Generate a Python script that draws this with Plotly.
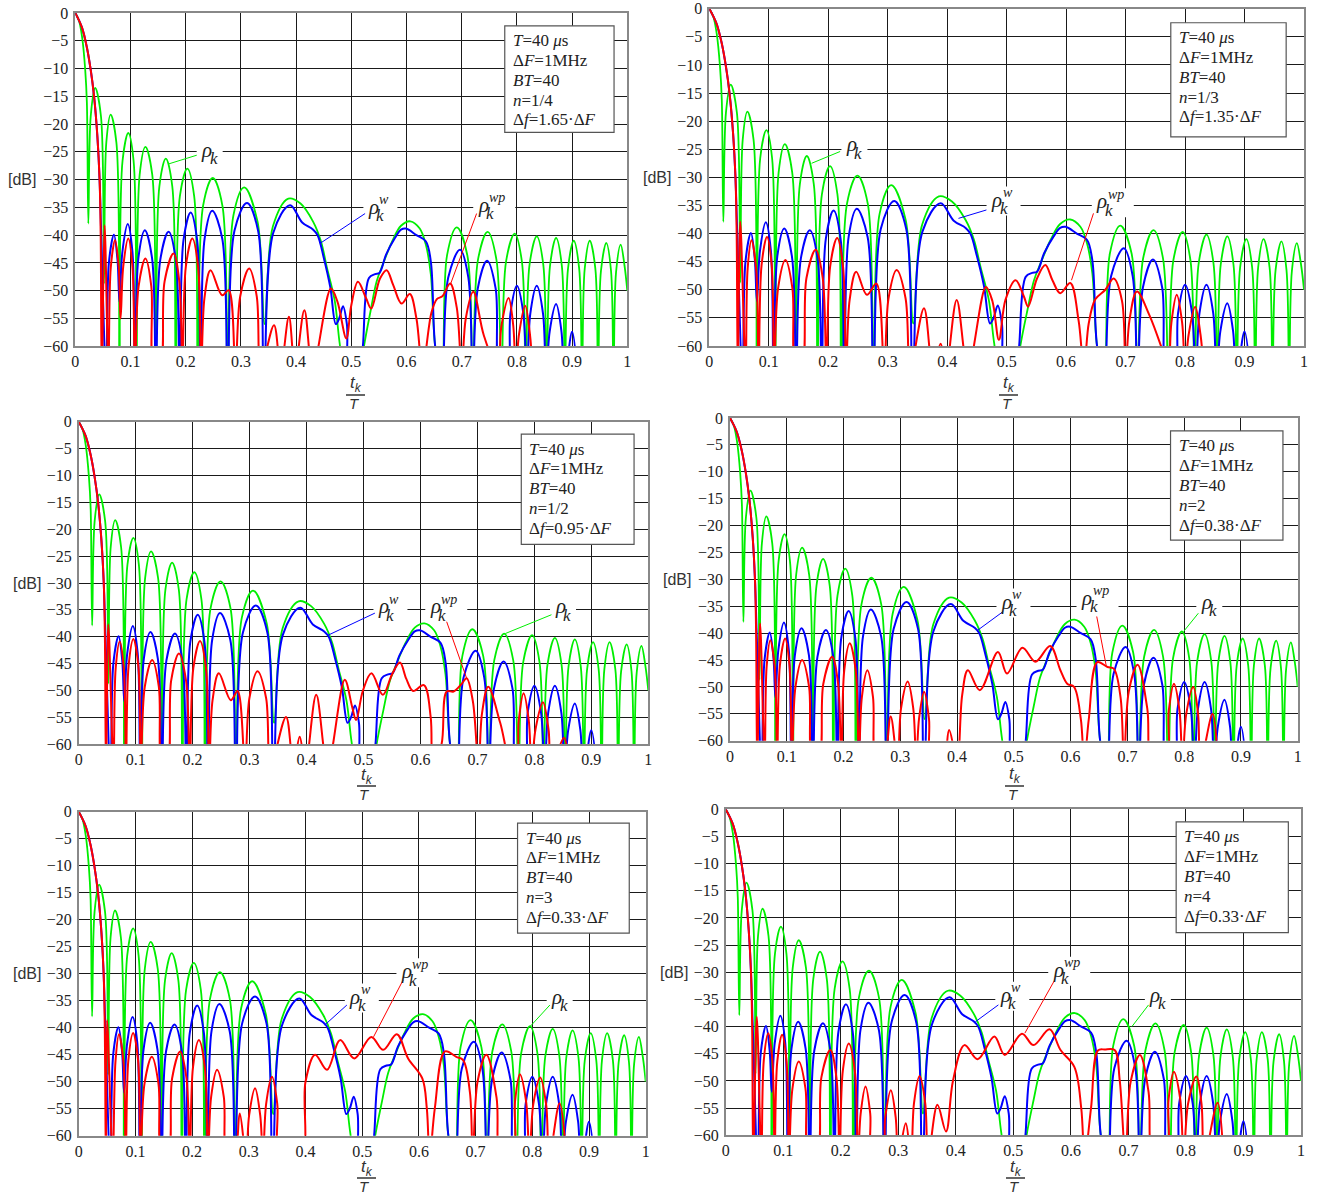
import plotly.graph_objects as go

W, H = 1320, 1195

# ---------------- data ----------------
X_TICKS = [0, 0.1, 0.2, 0.3, 0.4, 0.5, 0.6, 0.7, 0.8, 0.9, 1]
X_TICKTEXT = ["0", "0.1", "0.2", "0.3", "0.4", "0.5", "0.6", "0.7", "0.8", "0.9", "1"]
Y_TICKS = [0, -5, -10, -15, -20, -25, -30, -35, -40, -45, -50, -55, -60]
Y_TICKTEXT = ["0", "−5", "−10", "−15", "−20", "−25", "−30", "−35", "−40", "−45", "−50", "−55", "−60"]

# rho_k (green) - same in all panels: (t_k/T, dB)
GREEN = [(0, 0), (0.0067, -1.4), (0.0124, -4.4), (0.018, -10.3), (0.021, -16.2), (0.0236, -37.9),
         (0.028, -18.5), (0.036, -13.5), (0.0464, -18.5), (0.052, -48.7),
         (0.0562, -23.3), (0.064, -18.3), (0.0744, -23.3), (0.08, -66),
         (0.0856, -26.6), (0.096, -21.6), (0.1056, -26.6), (0.111, -66),
         (0.1166, -29.1), (0.127, -24.1), (0.1394, -29.1), (0.146, -66),
         (0.1523, -31.2), (0.164, -26.2), (0.1757, -31.2), (0.182, -66),
         (0.1894, -33), (0.203, -28), (0.2154, -33), (0.222, -66),
         (0.2315, -34.7), (0.249, -29.7), (0.2665, -34.7), (0.276, -66),
         (0.2865, -36.4), (0.306, -31.4), (0.330, -37.5), (0.343, -56),
         (0.358, -38.4), (0.386, -33.4), (0.408, -34.3), (0.431, -37.6), (0.445, -41.1),
         (0.456, -45.9), (0.47, -51.8), (0.479, -59.5), (0.49, -66),
         (0.515, -66), (0.523, -60), (0.535, -53.6), (0.546, -48.3), (0.557, -45.3), (0.574, -41.1),
         (0.59, -38.3), (0.607, -37.5), (0.624, -38.8), (0.635, -41.7), (0.644, -47), (0.652, -60),
         (0.664, -66),
         (0.6735, -43.6), (0.691, -38.6), (0.7102, -43.6), (0.72, -66),
         (0.7295, -44.4), (0.747, -39.4), (0.7629, -44.4), (0.772, -66),
         (0.7804, -44.7), (0.796, -39.7), (0.809, -44.7), (0.816, -66),
         (0.823, -45.2), (0.836, -40.2), (0.8477, -45.2), (0.854, -66),
         (0.86, -45.5), (0.871, -40.5), (0.8814, -45.5), (0.887, -66),
         (0.8926, -46), (0.903, -41), (0.9128, -46), (0.918, -66),
         (0.9229, -46), (0.932, -41), (0.9421, -46), (0.947, -66),
         (0.9523, -46.4), (0.962, -41.4), (0.9705, -46.4), (0.975, -66),
         (0.9796, -46.7), (0.988, -41.7), (0.995, -45.5), (1.0, -50)]

# rho_k^w (blue) - same in all panels
BLUE = [(0, 0), (0.012, -2.6), (0.021, -6.2), (0.028, -10.3), (0.034, -15), (0.04, -22.2),
        (0.044, -30), (0.047, -40), (0.056, -66),
        (0.0609, -44.9), (0.07, -39.9), (0.0765, -44.5), (0.08, -52),
        (0.0853, -43), (0.095, -38), (0.1035, -43), (0.108, -66),
        (0.1143, -44.1), (0.126, -39.1), (0.139, -44.1), (0.146, -66),
        (0.154, -44.4), (0.169, -39.4), (0.182, -44.4), (0.189, -66),
        (0.196, -40.9), (0.209, -35.9), (0.2207, -40.9), (0.227, -66),
        (0.2343, -40.6), (0.248, -35.6), (0.2662, -40.6), (0.276, -66),
        (0.2883, -39.2), (0.311, -34.2), (0.3312, -39.2), (0.342, -66),
        (0.3585, -39.6), (0.389, -34.6), (0.411, -37.7), (0.431, -39), (0.439, -40), (0.45, -44),
        (0.462, -49.4), (0.472, -56), (0.478, -55), (0.485, -52.8), (0.492, -56), (0.498, -66),
        (0.515, -66), (0.521, -60), (0.532, -47.7), (0.543, -47), (0.551, -46.8), (0.563, -43.5),
        (0.579, -40.5), (0.59, -39), (0.599, -38.8), (0.618, -40), (0.635, -41.1), (0.644, -44.7),
        (0.652, -60), (0.664, -66),
        (0.6756, -47.6), (0.697, -42.6), (0.712, -47.6), (0.72, -66),
        (0.7291, -49.6), (0.746, -44.6), (0.7615, -49.6), (0.77, -66), (0.782, -66),
        (0.7883, -54.1), (0.8, -49.1), (0.8117, -54.1), (0.818, -66),
        (0.8243, -54.1), (0.836, -49.1), (0.8473, -54.1), (0.853, -66),
        (0.8593, -57.4), (0.871, -52.4), (0.8808, -57.4), (0.886, -66),
        (0.9, -57.4), (0.91, -66)]

# rho_k^wp (red) main lobe, common start
RED_MAIN = [(0, 0), (0.012, -2.6), (0.021, -6.2), (0.028, -10.3), (0.034, -15), (0.04, -22.2),
            (0.044, -30), (0.046, -40), (0.048, -66)]

RED_N14 = [(0.053, -38.2), (0.06, -64),
           (0.0642, -45.9), (0.072, -40.9), (0.0785, -45.5), (0.082, -55),
           (0.0869, -45.6), (0.096, -40.6), (0.1035, -45.6), (0.108, -64),
           (0.1147, -49.2), (0.127, -44.2), (0.1377, -49.2), (0.143, -64), (0.153, -64),
           (0.1618, -48.3), (0.178, -43.3), (0.1884, -48.3), (0.194, -64),
           (0.2003, -45.6), (0.212, -40.6), (0.2224, -45.6), (0.228, -64),
           (0.234, -51.3), (0.245, -46.3), (0.266, -50.8), (0.278, -49.9), (0.29, -64),
           (0.2988, -51), (0.315, -46), (0.3287, -51), (0.336, -64),
           (0.36, -56.2), (0.372, -64), (0.387, -54.7), (0.398, -64), (0.415, -53.5), (0.43, -64),
           (0.463, -49.6), (0.475, -52), (0.491, -58.6), (0.5, -52.6), (0.512, -48.4), (0.527, -51.4),
           (0.536, -53.2), (0.552, -47.8), (0.564, -46.3), (0.576, -49), (0.591, -52.3), (0.606, -50.6),
           (0.618, -55), (0.629, -64),
           (0.645, -54), (0.655, -51.5), (0.665, -51), (0.679, -48.7), (0.691, -53), (0.7, -64),
           (0.7074, -55), (0.721, -50.2), (0.74, -58), (0.765, -64),
           (0.772, -56.3), (0.785, -51.3), (0.7934, -56.3), (0.798, -64),
           (0.804, -57.7), (0.815, -52.7), (0.8235, -57.7), (0.828, -64)]

RED_N13 = [(0.052, -37.9), (0.061, -64),
           (0.0645, -46.2), (0.071, -41.2), (0.0787, -46.2), (0.083, -64),
           (0.0879, -45.6), (0.097, -40.6), (0.1049, -45.6), (0.109, -64),
           (0.1157, -49.7), (0.128, -44.7), (0.1397, -49.7), (0.146, -64), (0.155, -64),
           (0.1634, -47.9), (0.179, -42.9), (0.1907, -47.9), (0.197, -64),
           (0.2033, -45.8), (0.215, -40.8), (0.2248, -45.8), (0.23, -64),
           (0.236, -51.8), (0.247, -46.8), (0.265, -50.9), (0.281, -48.9), (0.294, -64),
           (0.3014, -51.5), (0.315, -46.5), (0.33, -51.5), (0.338, -64),
           (0.361, -53.3), (0.376, -64), (0.389, -59.6), (0.398, -64), (0.416, -51.8), (0.435, -64),
           (0.465, -49.5), (0.476, -52), (0.487, -58.9), (0.498, -51.8), (0.515, -48.3), (0.529, -51.2),
           (0.536, -53), (0.551, -48), (0.565, -45.6), (0.577, -48.3), (0.59, -50.6), (0.607, -48.8),
           (0.621, -55.5), (0.63, -64),
           (0.638, -56), (0.649, -51.7), (0.666, -50), (0.68, -48), (0.694, -52), (0.7, -64),
           (0.7067, -55.3), (0.719, -50.3), (0.74, -54.5), (0.766, -62), (0.772, -64),
           (0.777, -55.9), (0.786, -50.9), (0.7951, -55.9), (0.8, -64),
           (0.806, -58), (0.817, -53), (0.826, -58), (0.831, -64)]

RED_N12 = [(0.052, -37.7), (0.061, -64),
           (0.0649, -45.9), (0.072, -40.9), (0.0792, -45.9), (0.083, -64),
           (0.0876, -45.4), (0.096, -40.4), (0.1047, -45.4), (0.109, -64),
           (0.116, -49.3), (0.129, -44.3), (0.1407, -49.3), (0.147, -64), (0.155, -64),
           (0.1624, -48.1), (0.176, -43.1), (0.1884, -48.1), (0.195, -64),
           (0.2013, -45.8), (0.213, -40.8), (0.2234, -45.8), (0.229, -64),
           (0.235, -51.8), (0.246, -46.8), (0.267, -51.8), (0.279, -50.1), (0.292, -64),
           (0.2997, -51.4), (0.314, -46.4), (0.329, -51.4), (0.337, -64),
           (0.364, -54.9), (0.377, -64), (0.388, -58.6), (0.398, -64), (0.417, -50.8), (0.437, -64),
           (0.467, -48), (0.48, -53), (0.487, -55.5), (0.499, -50), (0.514, -46.8), (0.534, -50.8),
           (0.55, -47), (0.564, -44.8), (0.575, -47.8), (0.587, -50.1), (0.606, -49), (0.618, -55),
           (0.622, -64),
           (0.637, -60), (0.646, -50.2), (0.658, -50.2), (0.672, -48.8), (0.681, -47.7), (0.692, -52),
           (0.702, -64),
           (0.708, -54.3), (0.719, -49.3), (0.74, -56), (0.76, -64), (0.768, -64),
           (0.7726, -55.5), (0.781, -50.5), (0.7901, -55.5), (0.795, -64),
           (0.802, -57.2), (0.815, -52.2), (0.8248, -57.2), (0.83, -64),
           (0.852, -58.8), (0.86, -64)]

RED_N2 = [(0.053, -38.2), (0.061, -64),
          (0.0645, -46.3), (0.071, -41.3), (0.0788, -46.3), (0.083, -64),
          (0.0879, -46), (0.097, -41), (0.1048, -46), (0.109, -64),
          (0.1153, -50), (0.127, -45), (0.1393, -50), (0.146, -64), (0.156, -64),
          (0.1644, -49.4), (0.18, -44.4), (0.1904, -49.4), (0.196, -64),
          (0.2013, -46.9), (0.211, -41.9), (0.2214, -46.9), (0.227, -64),
          (0.2323, -51.9), (0.242, -46.9), (0.2519, -51.9), (0.258, -64), (0.27, -64),
          (0.283, -55.5), (0.295, -64),
          (0.3013, -54), (0.313, -49), (0.3228, -54), (0.328, -64),
          (0.333, -55.9), (0.342, -50.9), (0.3505, -55.9), (0.355, -64), (0.375, -64),
          (0.386, -58), (0.4, -64),
          (0.409, -51.5), (0.419, -46.9), (0.44, -50.6), (0.472, -43.5), (0.488, -47.5), (0.515, -42.7),
          (0.538, -45.3), (0.564, -42.4), (0.582, -46.9), (0.594, -49.4), (0.606, -50), (0.618, -56),
          (0.624, -64),
          (0.632, -56), (0.647, -45.4), (0.665, -46.3), (0.676, -46.6), (0.688, -52), (0.694, -64),
          (0.7024, -50.9), (0.718, -45.9), (0.735, -54), (0.744, -64), (0.768, -64),
          (0.7729, -54.4), (0.782, -49.4), (0.7918, -54.4), (0.797, -64),
          (0.8037, -55), (0.816, -50), (0.8245, -55), (0.829, -64),
          (0.85, -55), (0.859, -64)]

RED_N3 = [(0.05, -38.6), (0.06, -64),
          (0.0649, -46.2), (0.071, -41.2), (0.0788, -46.2), (0.083, -64),
          (0.0876, -46), (0.096, -41), (0.1047, -46), (0.109, -64),
          (0.116, -50.4), (0.129, -45.4), (0.1407, -50.4), (0.147, -64), (0.157, -64),
          (0.1647, -49.4), (0.179, -44.4), (0.1901, -49.4), (0.196, -64),
          (0.2016, -47.3), (0.212, -42.3), (0.2224, -47.3), (0.228, -64),
          (0.2336, -52.8), (0.244, -47.8), (0.2559, -52.8), (0.262, -64), (0.274, -64),
          (0.284, -55.9), (0.295, -64),
          (0.3006, -56.2), (0.311, -51.2), (0.3201, -56.2), (0.325, -64),
          (0.3306, -54.1), (0.341, -49.1), (0.3502, -54.1), (0.356, -64), (0.392, -64),
          (0.4, -50), (0.417, -45), (0.438, -47.8), (0.461, -42.3), (0.486, -45.7), (0.516, -41.7),
          (0.537, -44.1), (0.561, -41.2), (0.581, -45.7), (0.606, -49.4), (0.614, -55), (0.619, -64),
          (0.628, -55), (0.646, -44.4), (0.666, -45.4), (0.678, -46), (0.69, -52), (0.695, -64),
          (0.7034, -50), (0.719, -45), (0.737, -53), (0.745, -64), (0.765, -64),
          (0.7696, -53.6), (0.778, -48.6), (0.789, -53.6), (0.795, -64),
          (0.8017, -54.2), (0.814, -49.2), (0.8244, -54.2), (0.83, -64),
          (0.848, -54), (0.86, -64)]

RED_N4 = [(0.054, -38.2), (0.062, -64),
          (0.0662, -46.2), (0.074, -41.2), (0.0812, -46.2), (0.085, -64),
          (0.0896, -46.5), (0.098, -41.5), (0.1058, -46.5), (0.11, -64),
          (0.116, -51.4), (0.127, -46.4), (0.1387, -51.4), (0.145, -64), (0.158, -64),
          (0.1664, -49.3), (0.182, -44.3), (0.1924, -49.3), (0.198, -64),
          (0.2036, -48.1), (0.214, -43.1), (0.2244, -48.1), (0.23, -64),
          (0.2346, -56), (0.243, -51), (0.2512, -56), (0.255, -64), (0.272, -64),
          (0.2773, -56.7), (0.287, -51.7), (0.2955, -56.7), (0.3, -64),
          (0.313, -57.8), (0.322, -64),
          (0.3273, -54.1), (0.337, -49.1), (0.3468, -54.1), (0.352, -64),
          (0.368, -54.4), (0.383, -59.3), (0.395, -50), (0.415, -43.4), (0.438, -46), (0.467, -41.8),
          (0.485, -45.2), (0.515, -41.3), (0.535, -43.4), (0.563, -40.5), (0.582, -44.3), (0.606, -47.4),
          (0.618, -55), (0.624, -64),
          (0.635, -55), (0.647, -44.4), (0.659, -44.2), (0.676, -44.3), (0.685, -50), (0.695, -64),
          (0.7038, -50.2), (0.72, -45.2), (0.735, -52), (0.744, -64), (0.765, -64),
          (0.7699, -53.3), (0.779, -48.3), (0.79, -53.3), (0.796, -64),
          (0.8037, -54.2), (0.818, -49.2), (0.8271, -54.2), (0.832, -64),
          (0.855, -54), (0.865, -64)]

RED_SERIES = [RED_N14, RED_N13, RED_N12, RED_N2, RED_N3, RED_N4]
N_TEXT = ["1/4", "1/3", "1/2", "2", "3", "4"]
DF_TEXT = ["1.65", "1.35", "0.95", "0.38", "0.33", "0.33"]

# ---------------- layout geometry (pixels / data positions) ----------------
PANELS = [
    dict(x0=75.3, x1=627.3, y0=13.0, y1=346.3),
    dict(x0=709.3, x1=1304.0, y0=8.7, y1=346.0),
    dict(x0=78.7, x1=648.3, y0=421.7, y1=744.3),
    dict(x0=730.0, x1=1297.7, y0=418.0, y1=740.7),
    dict(x0=78.7, x1=645.7, y0=811.7, y1=1135.7),
    dict(x0=725.7, x1=1301.0, y0=809.3, y1=1135.3),
]
BOXES = [(0.778, 0.976, -2.3, -21.5), (0.776, 0.970, -2.5, -22.8), (0.777, 0.975, -2.3, -22.8),
         (0.776, 0.974, -2.4, -22.7), (0.774, 0.971, -2.1, -22.5), (0.783, 0.978, -2.3, -22.7)]
DB_X = [38, 673, 43, 693, 43, 690]
FRAC_X = [356, 1009, 367, 1015, 367, 1016]
FRAC_Y = [(384, 395, 403), (384, 395, 403), (776, 786, 794), (775, 786, 794),
          (1168, 1178, 1186), (1168, 1178, 1186)]

# labels: (kind, rho position, leader start, leader end)
LABELS = [
    [("k", (0.238, -25.0), (0.22, -25.6), (0.168, -27.2)),
     ("w", (0.54, -35.2), (0.525, -36.1), (0.443, -41.5)),
     ("wp", (0.739, -34.9), (0.727, -36.1), (0.679, -49.0))],
    [("k", (0.239, -24.5), (0.22, -25.4), (0.172, -27.5)),
     ("w", (0.483, -34.3), (0.466, -35.8), (0.419, -37.3)),
     ("wp", (0.66, -34.6), (0.646, -36.4), (0.609, -48.3))],
    [("w", (0.535, -34.7), (0.52, -35.6), (0.438, -39.7)),
     ("wp", (0.626, -34.7), (0.646, -37.2), (0.681, -47.7)),
     ("k", (0.845, -34.7), (0.83, -35.9), (0.749, -39.4))],
    [("w", (0.487, -34.5), (0.481, -36.0), (0.437, -39.4)),
     ("wp", (0.628, -33.8), (0.646, -36.9), (0.663, -46.2)),
     ("k", (0.839, -34.5), (0.825, -36.3), (0.799, -39.7))],
    [("w", (0.487, -34.6), (0.473, -35.8), (0.434, -39.5)),
     ("wp", (0.578, -29.9), (0.572, -31.2), (0.52, -41.7)),
     ("k", (0.843, -34.6), (0.831, -35.8), (0.796, -39.8))],
    [("w", (0.486, -34.5), (0.474, -36.0), (0.434, -39.1)),
     ("wp", (0.578, -29.9), (0.572, -31.4), (0.52, -41.2)),
     ("k", (0.746, -34.5), (0.735, -36.0), (0.706, -40.0))],
]

GREEN_C = "#00ee00"
BLUE_C = "#0000ff"
RED_C = "#ff0000"
LINE_COLORS = {"k": GREEN_C, "w": BLUE_C, "wp": RED_C}

SERIF = "Liberation Serif"
SANS = "Liberation Sans"

fig = go.Figure()
shapes = []
annotations = []
layout = dict(width=W, height=H, margin=dict(l=0, r=0, t=0, b=0, pad=0, autoexpand=False),
              paper_bgcolor="white", plot_bgcolor="white", showlegend=False)


def xs(pts):
    return [p[0] for p in pts]


def ys(pts):
    return [p[1] for p in pts]


for i, p in enumerate(PANELS):
    n = i + 1
    xr = "x" if n == 1 else f"x{n}"
    yr = "y" if n == 1 else f"y{n}"
    xk = "xaxis" if n == 1 else f"xaxis{n}"
    yk = "yaxis" if n == 1 else f"yaxis{n}"
    layout[xk] = dict(domain=[p["x0"] / W, p["x1"] / W], range=[0, 1], anchor=yr, automargin=False,
                      tickvals=X_TICKS, ticktext=X_TICKTEXT, showgrid=True, gridcolor="#1a1a1a",
                      gridwidth=1, zeroline=False, showline=True, mirror=True, linecolor="#888",
                      linewidth=1.5, ticks="", tickfont=dict(family=SERIF, size=16, color="#222"),
                      fixedrange=True)
    layout[yk] = dict(domain=[1 - p["y1"] / H, 1 - p["y0"] / H], range=[-60, 0], anchor=xr,
                      automargin=False, tickvals=Y_TICKS, ticktext=Y_TICKTEXT, showgrid=True,
                      gridcolor="#1a1a1a", gridwidth=1, zeroline=False, showline=True, mirror=True,
                      linecolor="#888", linewidth=1.5, ticks="", ticklabelstandoff=2,
                      tickfont=dict(family=SERIF, size=16, color="#222"), fixedrange=True)

    red = RED_MAIN + RED_SERIES[i]
    for pts, col, w in ((GREEN, GREEN_C, 1.8), (BLUE, BLUE_C, 2.0), (red, RED_C, 2.0)):
        fig.add_trace(go.Scatter(x=xs(pts), y=ys(pts), mode="lines", xaxis=xr, yaxis=yr,
                                 line=dict(color=col, width=w, shape="spline", smoothing=1.0),
                                 hoverinfo="skip"))

    # parameter box
    bx0, bx1, by0, by1 = BOXES[i]
    shapes.append(dict(type="rect", xref=xr, yref=yr, x0=bx0, x1=bx1, y0=by0, y1=by1,
                       fillcolor="white", line=dict(color="#555", width=1.2), layer="above"))
    lines = ["<i>T</i>=40 <i>μ</i>s", "Δ<i>F</i>=1MHz", "<i>BT</i>=40", "<i>n</i>=" + N_TEXT[i],
             "Δ<i>f</i>=" + DF_TEXT[i] + "·Δ<i>F</i>"]
    for j, t in enumerate(lines):
        annotations.append(dict(xref=xr, yref=yr, x=bx0, y=by0, xanchor="left", yanchor="middle",
                                xshift=6, yshift=-(15 + 19.8 * j), align="left", showarrow=False,
                                text=t, font=dict(family=SERIF, size=17, color="#222")))

    # [dB] label
    y30 = p["y0"] + (p["y1"] - p["y0"]) * 0.5
    annotations.append(dict(xref="paper", yref="paper", x=DB_X[i] / W, y=1 - y30 / H,
                            xanchor="right", yanchor="middle", showarrow=False, text="[dB]",
                            font=dict(family=SANS, size=16, color="#333")))

    # x-axis title t_k / T
    cx = FRAC_X[i]
    ty, ly, by = FRAC_Y[i]
    annotations.append(dict(xref="paper", yref="paper", x=cx / W, y=1 - ty / H, xanchor="center",
                            yanchor="middle", showarrow=False, text="<i>t<sub>k</sub></i>",
                            font=dict(family=SANS, size=17, color="#333")))
    annotations.append(dict(xref="paper", yref="paper", x=(cx - 2) / W, y=1 - by / H, xanchor="center",
                            yanchor="middle", showarrow=False, text="<i>T</i>",
                            font=dict(family=SANS, size=15, color="#333")))
    shapes.append(dict(type="line", xref="paper", yref="paper", x0=(cx - 10) / W, x1=(cx + 9) / W,
                       y0=1 - ly / H, y1=1 - ly / H, line=dict(color="#333", width=1.5)))

    # curve labels
    for kind, (lx, ly_), (sx0, sy0), (sx1, sy1) in LABELS[i]:
        shapes.append(dict(type="line", xref=xr, yref=yr, x0=sx0, y0=sy0, x1=sx1, y1=sy1,
                           line=dict(color=LINE_COLORS[kind], width=1)))
        bw = 26 if kind == "k" else (34 if kind == "w" else 42)
        shapes.append(dict(type="rect", xref=xr, yref=yr, xsizemode="pixel", ysizemode="pixel",
                           xanchor=lx, yanchor=ly_, x0=-10, x1=bw - 10, y0=-14, y1=15,
                           fillcolor="white", line=dict(width=0), layer="between"))
        annotations.append(dict(xref=xr, yref=yr, x=lx, y=ly_, showarrow=False, text="<i>ρ</i>",
                                yshift=2, font=dict(family=SERIF, size=21, color="#222")))
        annotations.append(dict(xref=xr, yref=yr, x=lx, y=ly_, showarrow=False, text="<i>k</i>",
                                xanchor="left", xshift=1, yshift=-7,
                                font=dict(family=SERIF, size=17, color="#222")))
        if kind != "k":
            annotations.append(dict(xref=xr, yref=yr, x=lx, y=ly_, showarrow=False,
                                    text="<i>" + kind + "</i>", xanchor="left", xshift=4, yshift=9,
                                    font=dict(family=SERIF, size=14, color="#222")))

layout["shapes"] = shapes
layout["annotations"] = annotations
fig.update_layout(**layout)
fig.write_html("out.html", config={"displayModeBar": False},
               post_script="document.body.style.margin='0px';")
